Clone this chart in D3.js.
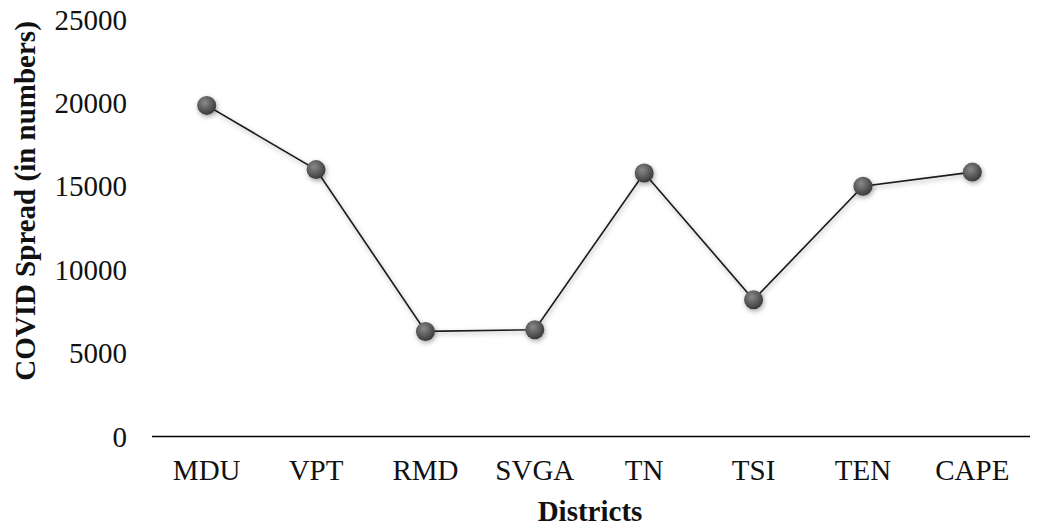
<!DOCTYPE html>
<html><head><meta charset="utf-8">
<script src="https://cdn.jsdelivr.net/npm/d3@7"></script>
<style>body{margin:0;background:#fff}svg{display:block}</style>
</head><body>
<svg id="c" width="1037" height="531"></svg>
<script>
const categories = ["MDU","VPT","RMD","SVGA","TN","TSI","TEN","CAPE"];
const values = [19850, 16000, 6300, 6400, 15800, 8200, 15000, 15850];
const yTicks = [0, 5000, 10000, 15000, 20000, 25000];
const xTitle = "Districts";
const yTitle = "COVID Spread (in numbers)";

const svg = d3.select("#c");
const font = "'Liberation Serif','Times New Roman',serif";
const x = d3.scaleBand().domain(categories).range([152, 1027]);
const y = d3.scaleLinear().domain([0, 25000]).range([436.5, 19.5]);

const defs = svg.append("defs");
const g = defs.append("radialGradient").attr("id","ball").attr("cx","40%").attr("cy","35%").attr("r","65%");
g.append("stop").attr("offset","0%").attr("stop-color","#8a8a8a");
g.append("stop").attr("offset","60%").attr("stop-color","#5a5a5a");
g.append("stop").attr("offset","100%").attr("stop-color","#3a3a3a");
const f = defs.append("filter").attr("id","sh").attr("x","-50%").attr("y","-50%").attr("width","200%").attr("height","200%");
f.append("feDropShadow").attr("dx",1).attr("dy",2).attr("stdDeviation",2.5).attr("flood-color","#000").attr("flood-opacity",0.35);

// x axis line
svg.append("line").attr("x1",152).attr("x2",1030).attr("y1",y(0)).attr("y2",y(0))
  .attr("stroke","#000").attr("stroke-width",1.3);

// y tick labels
svg.append("g").selectAll("text").data(yTicks).join("text")
  .attr("x",127).attr("y",d=>y(d)).attr("dy","0.35em").attr("text-anchor","end")
  .attr("font-family",font).attr("font-size",29).attr("fill","#111").text(d=>d);

// x category labels
svg.append("g").selectAll("text").data(categories).join("text")
  .attr("x",d=>x(d)+x.bandwidth()/2).attr("y",480).attr("text-anchor","middle")
  .attr("font-family",font).attr("font-size",29).attr("fill","#111").text(d=>d);

// titles
svg.append("text").attr("x",590).attr("y",521).attr("text-anchor","middle")
  .attr("font-family",font).attr("font-size",29).attr("font-weight","bold").attr("fill","#111").text(xTitle);
svg.append("text").attr("transform","translate(35,201) rotate(-90)").attr("text-anchor","middle")
  .attr("font-family",font).attr("font-size",29).attr("font-weight","bold").attr("fill","#111").text(yTitle);

const data = categories.map((c,i)=>({c, v: values[i]}));
const line = d3.line().x(d=>x(d.c)+x.bandwidth()/2).y(d=>y(d.v));
svg.append("path").datum(data).attr("d",line).attr("fill","none")
  .attr("stroke","#1a1a1a").attr("stroke-width",1.6).attr("filter","url(#sh)");
svg.append("g").selectAll("circle").data(data).join("circle")
  .attr("cx",d=>x(d.c)+x.bandwidth()/2).attr("cy",d=>y(d.v)).attr("r",9.5)
  .attr("fill","url(#ball)").attr("filter","url(#sh)");
</script>
</body></html>
